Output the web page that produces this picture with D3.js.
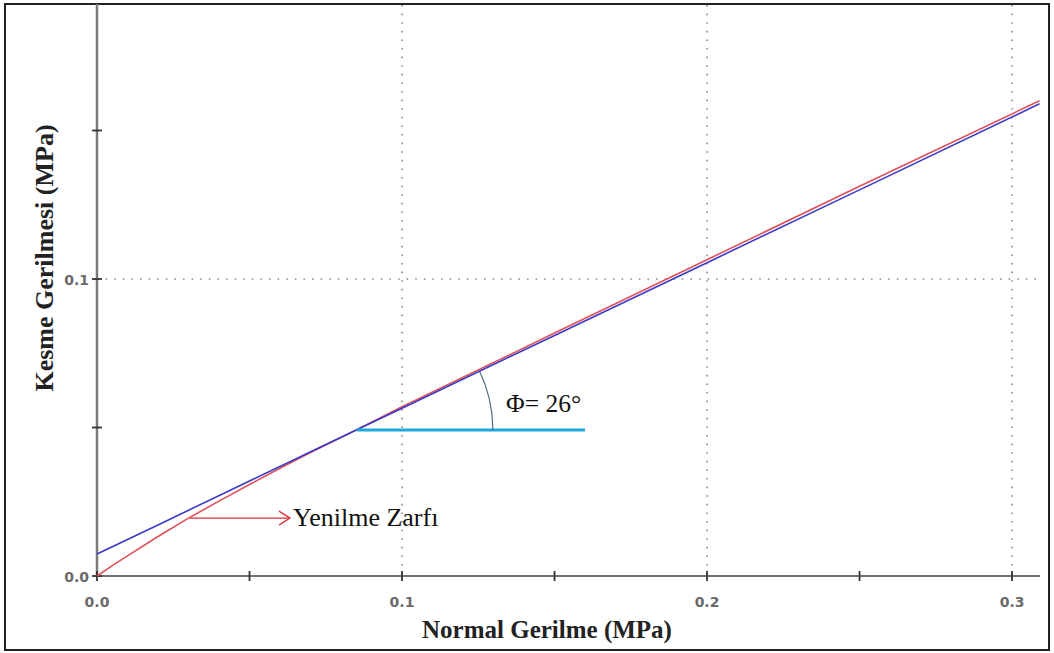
<!DOCTYPE html>
<html>
<head>
<meta charset="utf-8">
<script src="https://cdn.jsdelivr.net/npm/d3@7"></script>
<style>
  body { margin: 0; background: #fff; }
  .serif { font-family: "Liberation Serif", "Times New Roman", serif; }
  .tick { font-family: "DejaVu Sans", Verdana, sans-serif; }
</style>
</head>
<body>
<svg width="1054" height="653"></svg>
<script>
// envelope data (MPa)
const blueX = [0, 0.02, 0.05, 0.08, 0.1, 0.15, 0.2, 0.25, 0.309]
const blueY = [0.0074, 0.0172, 0.0320, 0.0467, 0.0565, 0.0810, 0.1055, 0.1300, 0.1590]
const redX = [0, 0.005, 0.01, 0.02, 0.03, 0.04, 0.05, 0.06, 0.07, 0.08, 0.09, 0.1, 0.15, 0.2, 0.25, 0.309]
const redY = [0, 0.0035, 0.0068, 0.0133, 0.0195, 0.0252, 0.0308, 0.0363, 0.0416, 0.0466, 0.0518, 0.0570, 0.0818, 0.1065, 0.1312, 0.1600]
const xTicks = [0, 0.1, 0.2, 0.3]
const yTicks = [0, 0.1]
const minorTicks = [0.05, 0.15, 0.25]
const phiLine = { x0: 0.0852, x1: 0.16, y: 0.0492 }
const phiDeg = 26
const arrowFrom = { x: 0.0305, y: 0.0195 }

const svg = d3.select("svg")

const x = d3.scaleLinear().domain([0, 0.309]).range([97, 1039.5])
const y = d3.scaleLinear().domain([0, 0.1]).range([576, 279])

// outer frame
svg.append("rect").attr("x",5).attr("y",4).attr("width",1044).attr("height",646)
  .attr("fill","none").attr("stroke","#222").attr("stroke-width",2)

// dotted grid
const grid = svg.append("g").attr("stroke","#8a8a8a").attr("stroke-width",1.6).attr("stroke-dasharray","1.6,7")
xTicks.filter(d => d > 0).forEach(d => {
  grid.append("line").attr("x1",x(d)).attr("x2",x(d)).attr("y1",5).attr("y2",y(0))
})
yTicks.filter(d => d > 0).forEach(d => {
  grid.append("line").attr("x1",x(0)).attr("x2",1040).attr("y1",y(d)).attr("y2",y(d))
})

// axes
svg.append("line").attr("x1",x(0)).attr("x2",x(0)).attr("y1",4).attr("y2",y(0))
  .attr("stroke","#7a7a7a").attr("stroke-width",2.5)
svg.append("line").attr("x1",x(0)).attr("x2",1040).attr("y1",y(0)).attr("y2",y(0))
  .attr("stroke","#444").attr("stroke-width",1.6)

const ticks = svg.append("g").attr("stroke","#333").attr("stroke-width",1.8)
xTicks.concat(minorTicks).forEach(d => {
  ticks.append("line").attr("x1",x(d)).attr("x2",x(d)).attr("y1",y(0)-5).attr("y2",y(0)+5)
})
;[0, 0.05, 0.1, 0.15].forEach(d => {
  ticks.append("line").attr("x1",x(0)-5).attr("x2",x(0)+5).attr("y1",y(d)).attr("y2",y(d))
})

const fmt = d3.format(".1f")
svg.append("g").selectAll("text").data(xTicks).join("text")
  .attr("class","tick")
  .attr("x",d => x(d)).attr("y",607).attr("text-anchor","middle")
  .attr("font-size",14).attr("font-weight","bold").attr("fill","#6a6a6a")
  .text(fmt)
svg.append("g").selectAll("text").data(yTicks).join("text")
  .attr("class","tick")
  .attr("x",89).attr("y",d => y(d)+5.5).attr("text-anchor","end")
  .attr("font-size",14).attr("font-weight","bold").attr("fill","#6a6a6a")
  .text(fmt)

// axis titles
svg.append("text").attr("class","serif").attr("x",547).attr("y",638).attr("text-anchor","middle")
  .attr("font-weight","bold").attr("font-size",25).attr("fill","#222")
  .text("Normal Gerilme (MPa)")
svg.append("text").attr("class","serif").attr("transform","translate(53,258) rotate(-90)").attr("text-anchor","middle")
  .attr("font-weight","bold").attr("font-size",26).attr("fill","#222")
  .text("Kesme Gerilmesi (MPa)")

// envelopes
const line = d3.line().x(d => x(d[0])).y(d => y(d[1]))
svg.append("path").attr("d",line(d3.zip(redX, redY)))
  .attr("fill","none").attr("stroke","#e0505a").attr("stroke-width",1.6)
svg.append("path").attr("d",line(d3.zip(blueX, blueY)))
  .attr("fill","none").attr("stroke","#3a3ac8").attr("stroke-width",1.6)

// friction angle annotation
svg.append("line").attr("x1",x(phiLine.x0)).attr("x2",x(phiLine.x1)).attr("y1",y(phiLine.y)).attr("y2",y(phiLine.y))
  .attr("stroke","#1fa8dc").attr("stroke-width",3)
const r = 136
const a = phiDeg * Math.PI / 180
const cx = x(phiLine.x0), cy = y(phiLine.y)
svg.append("path")
  .attr("d",`M${cx + r},${cy} A${r},${r} 0 0 0 ${cx + r*Math.cos(a)},${cy - r*Math.sin(a)}`)
  .attr("fill","none").attr("stroke","#4d6b88").attr("stroke-width",1.2)
svg.append("text").attr("class","serif").attr("x",506).attr("y",412)
  .attr("font-size",25.5).attr("fill","#111")
  .text("Φ= 26°")

// envelope label with arrow
const ax0 = x(arrowFrom.x), ay = y(arrowFrom.y), ax1 = 290
svg.append("line").attr("x1",ax0).attr("x2",ax1).attr("y1",ay).attr("y2",ay)
  .attr("stroke","#d8343c").attr("stroke-width",1.3)
svg.append("path").attr("d",`M${ax1-11},${ay-7} L${ax1},${ay} L${ax1-11},${ay+7}`)
  .attr("fill","none").attr("stroke","#d8343c").attr("stroke-width",1.3)
svg.append("text").attr("class","serif").attr("x",293).attr("y",526)
  .attr("font-size",26).attr("fill","#111")
  .text("Yenilme Zarfı")
</script>
</body>
</html>
